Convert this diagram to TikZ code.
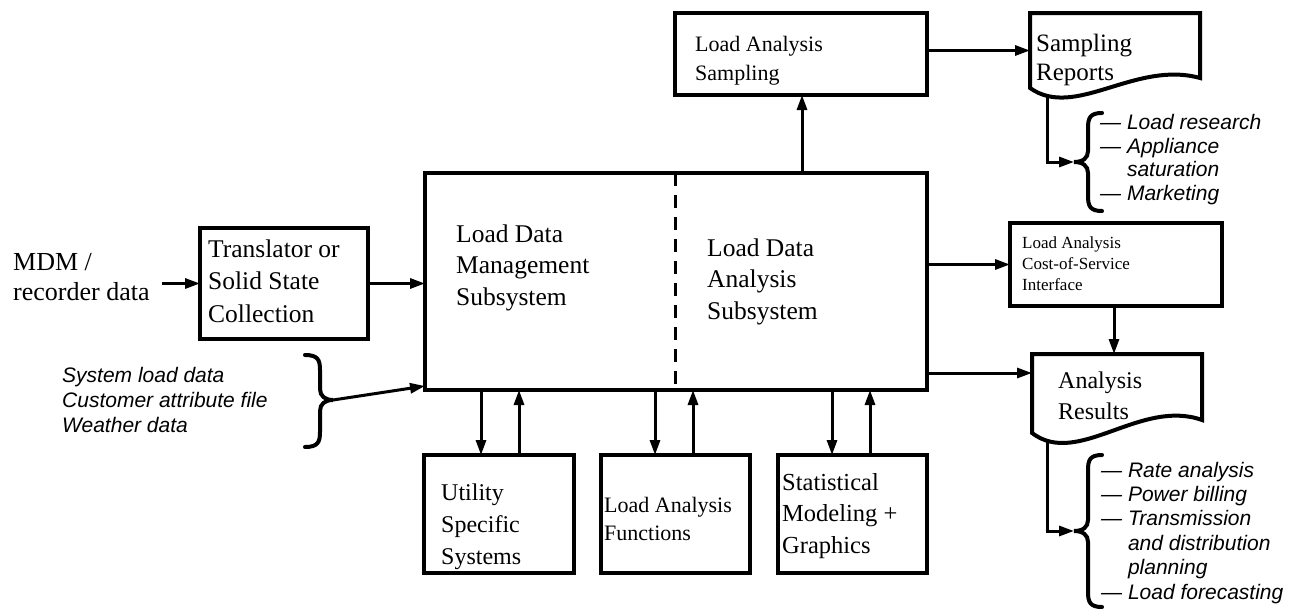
\documentclass[tikz,border=0pt]{standalone}
\usepackage{fontspec}
\setmainfont{Liberation Serif}
\setsansfont{Liberation Sans}
\usetikzlibrary{arrows.meta,calc}

\begin{document}
\begin{tikzpicture}[x=1pt,y=-1pt,
  box/.style={draw,line width=4pt,inner sep=0pt,outer sep=0pt,anchor=north west},
  docbox/.style={inner sep=0pt,outer sep=0pt,anchor=north west},
  docline/.style={draw,fill=white,line width=4pt},
  arr/.style={line width=3pt,-{Triangle[length=15pt,width=10pt]}},
  wire/.style={line width=3pt},
  curly/.style={line width=4pt,line cap=round},
  % labels are placed by the baseline of their last line
  lbl/.style={inner sep=0pt,anchor=base west,align=left},
  mid/.style={lbl,font=\fontsize{22}{29}\selectfont},
  small/.style={lbl,font=\fontsize{17}{21}\selectfont},
  note/.style={lbl,font=\sffamily\itshape\fontsize{21}{24.4}\selectfont}
]
\useasboundingbox (0,0) rectangle (1292,608);

% ---- boxes ----
\node[box,minimum width=502pt,minimum height=217pt] (main) at (425,173) {};
\node[box,minimum width=168pt,minimum height=111pt] (trans) at (200,228) {};
\node[box,minimum width=252pt,minimum height=82pt] (samp) at (675,13) {};
\node[box,minimum width=212pt,minimum height=83pt] (cos) at (1010,223) {};
\node[box,minimum width=150pt,minimum height=118pt] (util) at (424,455) {};
\node[box,minimum width=149pt,minimum height=118pt] (func) at (601,455) {};
\node[box,minimum width=149pt,minimum height=118pt] (stat) at (778,455) {};
\node[docbox,minimum width=170pt,minimum height=75pt] (rep) at (1030,13) {};
\node[docbox,minimum width=170pt,minimum height=79pt] (res) at (1032,354) {};

% divider between the two subsystems
\draw[line width=3pt,dash pattern=on 13pt off 9pt] (675,0 |- main.north) -- (675,0 |- main.south);

% ---- braces ----
\draw[curly] (305,355) .. controls (318,355) and (320,360) .. (320,370) -- (320,389)
  .. controls (320,396) and (325,400) .. (333,400)
  .. controls (325,400) and (320,404) .. (320,411) -- (320,432)
  .. controls (320,442) and (318,447) .. (305,447);
\coordinate (ltip) at (333,400);
\draw[curly] (1102,113) .. controls (1090,113) and (1088,118) .. (1088,128) -- (1088,151)
  .. controls (1088,158) and (1083,162) .. (1074,162)
  .. controls (1083,162) and (1088,166) .. (1088,173) -- (1088,196)
  .. controls (1088,206) and (1090,211) .. (1102,211);
\coordinate (rtip1) at (1074,162);
\draw[curly] (1102,455) .. controls (1090,455) and (1088,460) .. (1088,470) -- (1088,520)
  .. controls (1088,527) and (1083,531) .. (1074,531)
  .. controls (1083,531) and (1088,535) .. (1088,542) -- (1088,592)
  .. controls (1088,602) and (1090,607) .. (1102,607);
\coordinate (rtip2) at (1074,531);

% ---- connectors ----
\coordinate (mdmout) at (162,283.5);
\draw[arr] (mdmout) -- (trans.west);
\draw[arr] (trans.east) -- (main.west |- trans.east);
\draw[arr] (ltip) -- (main.west |- 0,386);
\draw[arr] (802,0 |- main.north) -- (802,0 |- samp.south);
\draw[arr] (samp.east |- rep.west) -- (rep.west);
\draw[arr] (main.east |- cos.west) -- (cos.west);
\draw[arr] (1114,0 |- cos.south) -- (1114,0 |- res.north);
\draw[arr] (main.east |- 0,373) -- (res.west |- 0,373);
\draw[arr] (481,0 |- main.south) -- (481,0 |- util.north);
\draw[arr] (519,0 |- util.north) -- (519,0 |- main.south);
\draw[arr] (655,0 |- main.south) -- (655,0 |- func.north);
\draw[arr] (693,0 |- func.north) -- (693,0 |- main.south);
\draw[arr] (832,0 |- main.south) -- (832,0 |- stat.north);
\draw[arr] (870,0 |- stat.north) -- (870,0 |- main.south);
\draw[wire] (1047,0 |- rep.south) -- (1047,0 |- rtip1);
\draw[arr] (1045.5,0 |- rtip1) -- (rtip1);
\draw[wire] (1047,0 |- res.south) -- (1047,0 |- rtip2);
\draw[arr] (1045.5,0 |- rtip2) -- (rtip2);

% ---- document outlines (white fill hides the wire stubs) ----
\draw[docline] (rep.south west) -- (rep.north west) -- (rep.north east) -- (1200,78)
  .. controls (1135,60) and (1075,120) .. (rep.south west) -- cycle;
\draw[docline] (res.south west) -- (res.north west) -- (res.north east) -- (1202,420)
  .. controls (1140,398) and (1078,468) .. (res.south west) -- cycle;

% ---- texts ----
\node[lbl,font=\fontsize{26}{30}\selectfont] (mdm) at (13,300) {MDM /\\recorder data};
\node[lbl,font=\fontsize{25.5}{32.5}\selectfont] at (208,322) {Translator or\\Solid State\\Collection};
\node[lbl,font=\fontsize{25.5}{31.5}\selectfont] at (456,305) {Load Data\\Management\\Subsystem};
\node[lbl,font=\fontsize{25.5}{31.5}\selectfont] at (707,319) {Load Data\\Analysis\\Subsystem};
\node[mid] at (695,80) {Load Analysis\\Sampling};
\node[lbl,font=\fontsize{25}{29}\selectfont] at (1036,80) {Sampling\\Reports};
\node[small] at (1022,290) {Load Analysis\\Cost-of-Service\\Interface};
\node[lbl,font=\fontsize{24}{31}\selectfont] at (1058,419) {Analysis\\Results};
\node[lbl,font=\fontsize{24}{32}\selectfont] at (441,564) {Utility\\Specific\\Systems};
\node[mid,font=\fontsize{22}{28}\selectfont] at (604,540) {Load Analysis\\Functions};
\node[lbl,font=\fontsize{24.5}{31.5}\selectfont] at (782,553) {Statistical\\Modeling +\\Graphics};
\node[note,font=\sffamily\itshape\fontsize{21}{25}\selectfont] at (62,432)
  {System load data\\Customer attribute file\\Weather data};
\node[note,font=\sffamily\itshape\fontsize{21}{23.4}\selectfont] at (1100,200)
  {— Load research\\— Appliance\\\phantom{— }saturation\\— Marketing};
\node[note] at (1101,599)
  {— Rate analysis\\— Power billing\\— Transmission\\\phantom{— }and distribution\\\phantom{— }planning\\— Load forecasting};
\end{tikzpicture}
\end{document}
